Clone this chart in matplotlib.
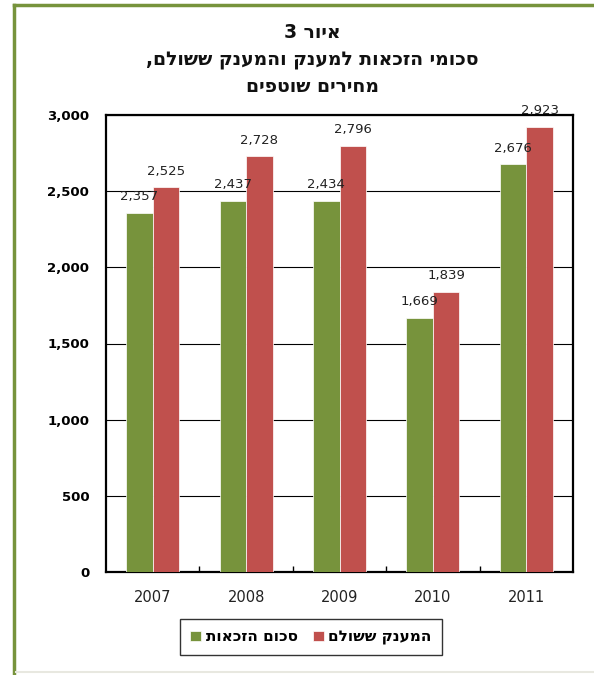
import numpy as np
import matplotlib
matplotlib.use('Agg')
import matplotlib.pyplot as plt
from matplotlib.lines import Line2D
from matplotlib.ticker import FuncFormatter, FixedLocator

years = ['2007', '2008', '2009', '2010', '2011']
eligibility = [2357, 2437, 2434, 1669, 2676]   # סכום הזכאות
paid = [2525, 2728, 2796, 1839, 2923]          # המענק ששולם

title_lines = ['איור 3', 'סכומי הזכאות למענק והמענק ששולם,', 'מחירים שוטפים']
series_names = ['סכום הזכאות', 'המענק ששולם']

green = '#77933C'
red = '#C0504D'
frame_green = '#77933C'


def vis(s):
    # matplotlib has no bidi support, so lay out right-to-left text by hand
    return s[::-1]


plt.rcParams['font.family'] = ['DejaVu Sans']

fig = plt.figure(figsize=(5.94, 6.75), dpi=100)
ax = fig.add_axes([106/594, 1 - 572/675, (573-106)/594, (572-115)/675])

x = np.arange(len(years))
w = 0.284
b1 = ax.bar(x - w/2, eligibility, w, color=green, edgecolor='white', linewidth=0.5,
            label=vis(series_names[0]), zorder=3)
b2 = ax.bar(x + w/2, paid, w, color=red, edgecolor='white', linewidth=0.5,
            label=vis(series_names[1]), zorder=3)

for bars, vals in ((b1, eligibility), (b2, paid)):
    for r, v in zip(bars, vals):
        ax.annotate(f'{v:,}', (r.get_x() + r.get_width()/2, v), xytext=(0, 7),
                    textcoords='offset points', ha='center', va='bottom',
                    fontsize=9.5, color='#222222', zorder=4)

ax.set_xlim(-0.5, len(years) - 0.5)
ax.set_ylim(0, 3000)
ax.set_yticks(np.arange(0, 3001, 500))
ax.yaxis.set_major_formatter(FuncFormatter(lambda v, p: f'{int(v):,}'))
ax.grid(axis='y', color='black', linewidth=0.8, zorder=0)
ax.set_xticks(x)
ax.set_xticklabels(years)
ax.xaxis.set_minor_locator(FixedLocator(np.arange(0.5, len(years) - 1, 1)))
ax.tick_params(axis='x', which='major', length=0, pad=13, labelsize=10.5, labelcolor='#222222')
ax.tick_params(axis='x', which='minor', direction='in', length=4, width=1)
ax.tick_params(axis='y', length=0, pad=12, labelsize=9.5)
for lab in ax.get_yticklabels():
    lab.set_fontweight('bold')
for sp in ax.spines.values():
    sp.set_linewidth(1.6)
    sp.set_color('black')

ys = [33, 60, 87]
for line, yy in zip(title_lines, ys):
    fig.text(312/594, 1 - yy/675, vis(line), ha='center', va='center',
             fontsize=13.5, fontweight='bold', color='#111111')

leg = fig.legend(loc='center', bbox_to_anchor=(311/594, 1 - 637/675), ncol=2,
                 frameon=True, fancybox=False, edgecolor='black',
                 handlelength=0.7, handleheight=0.7, handletextpad=0.3,
                 columnspacing=1.0, borderpad=0.7,
                 prop={'weight': 'bold', 'size': 11})
leg.get_frame().set_linewidth(1.0)

# green frame around the chart (left and top), faint grey line at the bottom
fig.add_artist(Line2D([14/594, 14/594], [0, 1 - 5/675], color=frame_green, linewidth=2.5,
                      transform=fig.transFigure))
fig.add_artist(Line2D([14/594, 1], [1 - 5/675, 1 - 5/675], color=frame_green, linewidth=2.5,
                      transform=fig.transFigure))
fig.add_artist(Line2D([16/594, 1], [1 - 672/675, 1 - 672/675], color='#e8e8e0', linewidth=1.5,
                      transform=fig.transFigure))

fig.savefig('out.png', dpi=100)
